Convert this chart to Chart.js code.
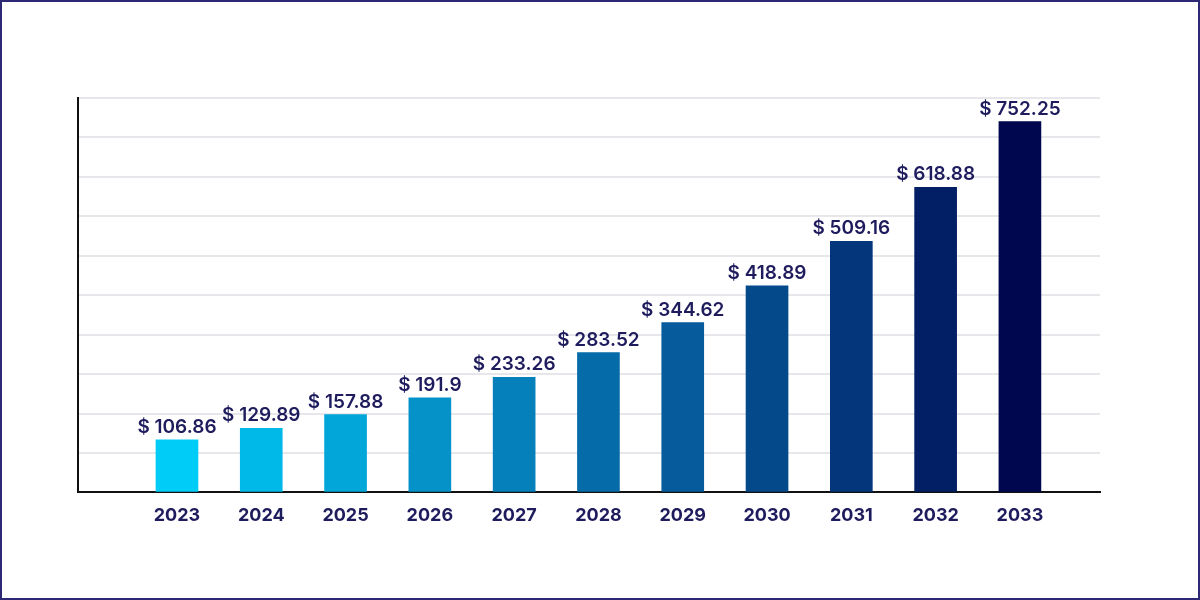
<!DOCTYPE html>
<html>
<head>
<meta charset="utf-8">
<script src="https://cdn.jsdelivr.net/npm/chart.js@4.4.1/dist/chart.umd.min.js"></script>
<style>
  html, body { margin: 0; padding: 0; background: #ffffff; }
  #wrap { position: relative; width: 1200px; height: 600px; }
  #frame { position: absolute; left: 0; top: 0; width: 1200px; height: 600px; box-sizing: border-box; border: 2px solid #2e2877; pointer-events: none; }
  canvas { display: block; }
</style>
</head>
<body>
<div id="wrap">
  <canvas id="c" width="1200" height="600"></canvas>
  <div id="frame"></div>
</div>
<script>
const years = [2023, 2024, 2025, 2026, 2027, 2028, 2029, 2030, 2031, 2032, 2033];
const marketValues = [106.86, 129.89, 157.88, 191.9, 233.26, 283.52, 344.62, 418.89, 509.16, 618.88, 752.25];
const valueLabels = ["$ 106.86", "$ 129.89", "$ 157.88", "$ 191.9", "$ 233.26", "$ 283.52", "$ 344.62", "$ 418.89", "$ 509.16", "$ 618.88", "$ 752.25"];
const barColors = ["#00cdf7", "#00b9e9", "#03a6d9", "#0592c9", "#0580bb", "#056ca9", "#055b9c", "#044a8b", "#03367a", "#021f65", "#01074f"];

const TEXT = "#1f1c5e";

const valueLabelPlugin = {
  id: 'valueLabels',
  afterDatasetsDraw(chart) {
    const ctx = chart.ctx;
    const meta = chart.getDatasetMeta(0);
    ctx.save();
    ctx.font = "600 19px Inter, 'Open Sans', sans-serif";
    ctx.fillStyle = TEXT;
    ctx.textAlign = 'center';
    ctx.textBaseline = 'alphabetic';
    meta.data.forEach((bar, i) => {
      ctx.fillText(valueLabels[i], bar.x, bar.y - 7);
    });
    ctx.restore();
  }
};

new Chart(document.getElementById('c'), {
  type: 'bar',
  data: {
    datasets: [{
      data: years.map((y, i) => ({ x: y, y: marketValues[i] })),
      backgroundColor: barColors,
      borderWidth: 0,
      barThickness: 42
    }]
  },
  options: {
    responsive: false,
    animation: false,
    devicePixelRatio: 1,
    layout: { padding: { left: 78, right: 100, top: 98, bottom: 62 } },
    plugins: { legend: { display: false }, tooltip: { enabled: false } },
    scales: {
      x: {
        type: 'linear',
        min: 2021.826,
        max: 2033.95,
        offset: false,
        grid: { display: false, offset: false, drawTicks: false },
        border: { display: true, color: '#111111', width: 2 },
        ticks: {
          stepSize: 1,
          includeBounds: false,
          autoSkip: false,
          maxRotation: 0,
          padding: 12,
          color: TEXT,
          font: { family: "Inter, 'Open Sans', sans-serif", size: 18, weight: '700' },
          callback: (v) => (years.includes(v) ? String(v) : '')
        }
      },
      y: {
        min: 0,
        max: 800,
        grid: { color: '#e7e7eb', lineWidth: 2, drawTicks: false },
        border: { display: true, color: '#111111', width: 2 },
        ticks: { display: false, stepSize: 80 }
      }
    }
  },
  plugins: [valueLabelPlugin]
});
</script>
</body>
</html>
